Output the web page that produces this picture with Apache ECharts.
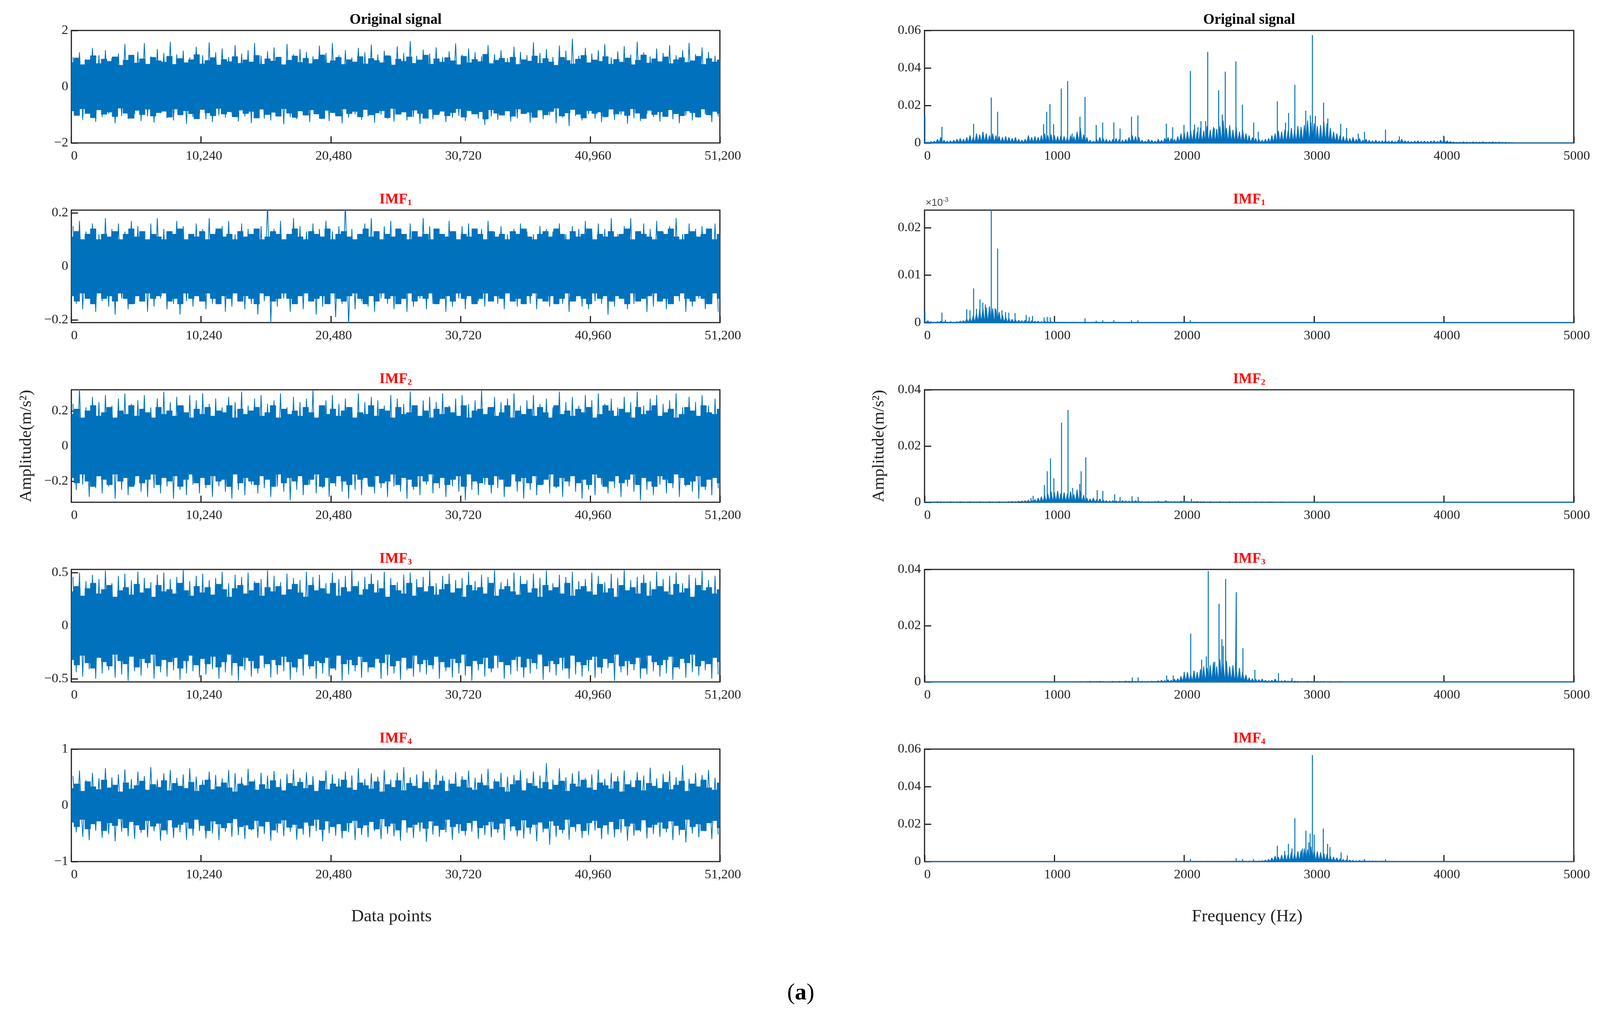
<!DOCTYPE html>
<html>
<head>
<meta charset="utf-8">
<script src="https://cdn.jsdelivr.net/npm/echarts@6/dist/echarts.min.js"></script>
<style>
html, body { margin: 0; padding: 0; background: #fff; overflow: hidden; }
#chart { width: 100vw; height: 100vh; }
</style>
</head>
<body>
<div id="chart"></div>
<script>
// * EMD 分解：左列时域波形，右列频谱
const chart = echarts.init(document.getElementById('chart'))

// ? 行标题（从上到下）
const rowTitles = ['Original signal', 'IMF', 'IMF', 'IMF', 'IMF']
const rowSubs = ['', '1', '2', '3', '4']

// ? 坐标刻度
const sampleTicks = [0, 10240, 20480, 30720, 40960, 51200]
const freqTicks = [0, 1000, 2000, 3000, 4000, 5000]
const timeRange = [2, 0.21, 0.32, 0.53, 1]
const timeYTicks = [[-2, 0, 2], [-0.2, 0, 0.2], [-0.2, 0, 0.2], [-0.5, 0, 0.5], [-1, 0, 1]]
const specMax = [0.06, 0.0237, 0.04, 0.04, 0.06]
const specYTicks = [[0, 0.02, 0.04, 0.06], [0, 0.01, 0.02], [0, 0.02, 0.04], [0, 0.02, 0.04], [0, 0.02, 0.04, 0.06]]

// ? 时域：最密集部分的幅值 (m/s^2)
const coreAmp = [0.68, 0.085, 0.14, 0.24, 0.2]

// ? 时域：每 512 点一段的正峰 / 负峰 (m/s^2)
const origHi = [1.05,1.22,0.98,1.38,1.12,1.30,1.02,1.18,1.52,1.10,
  1.25,1.55,1.08,1.34,1.20,1.60,1.15,1.28,1.04,1.42,
  1.12,1.58,1.22,1.36,1.06,1.48,1.18,1.30,1.55,1.10,
  1.26,1.40,1.02,1.52,1.16,1.34,1.24,1.08,1.46,1.20,
  1.56,1.12,1.30,1.04,1.38,1.22,1.50,1.14,1.28,1.08,
  1.44,1.20,1.62,1.10,1.32,1.18,1.40,1.06,1.26,1.54,
  1.14,1.36,1.22,1.08,1.48,1.16,1.30,1.02,1.42,1.24,
  1.12,1.58,1.20,1.34,1.06,1.46,1.28,1.70,1.10,1.38,
  1.18,1.30,1.52,1.04,1.26,1.44,1.14,1.60,1.22,1.08,
  1.36,1.20,1.48,1.12,1.30,1.56,1.16,1.40,1.24,1.10]
const origLo = [-1.02,-1.18,-0.92,-1.25,-1.08,-0.96,-1.30,-1.04,-1.14,-0.98,
  -1.22,-1.06,-1.28,-0.94,-1.12,-1.20,-1.00,-1.32,-1.08,-0.96,
  -1.16,-1.26,-1.02,-1.10,-0.94,-1.24,-1.06,-1.30,-1.00,-1.14,
  -1.20,-0.98,-1.34,-1.08,-1.16,-1.02,-1.26,-0.96,-1.12,-1.22,
  -1.04,-1.30,-1.10,-0.98,-1.18,-1.06,-1.28,-1.00,-1.14,-1.24,
  -0.96,-1.20,-1.08,-1.32,-1.02,-1.16,-0.94,-1.26,-1.10,-1.04,
  -1.22,-0.98,-1.14,-1.36,-1.06,-1.18,-1.00,-1.24,-1.12,-0.96,
  -1.28,-1.08,-1.16,-1.02,-1.30,-1.10,-1.40,-1.04,-1.20,-0.98,
  -1.14,-1.26,-1.06,-1.18,-1.00,-1.32,-1.12,-1.22,-0.96,-1.08,
  -1.24,-1.04,-1.16,-1.30,-1.02,-1.20,-1.10,-0.98,-1.26,-1.06]

const imf1Hi = [0.15,0.17,0.13,0.16,0.12,0.18,0.14,0.16,0.13,0.17,
  0.15,0.12,0.16,0.18,0.14,0.13,0.17,0.15,0.12,0.16,
  0.14,0.18,0.13,0.15,0.17,0.12,0.16,0.14,0.13,0.15,
  0.24,0.14,0.17,0.12,0.18,0.15,0.13,0.16,0.14,0.17,
  0.13,0.15,0.24,0.14,0.12,0.16,0.18,0.13,0.15,0.17,
  0.14,0.12,0.16,0.13,0.18,0.15,0.14,0.12,0.17,0.13,
  0.15,0.16,0.12,0.14,0.17,0.13,0.15,0.12,0.14,0.16,
  0.13,0.12,0.15,0.14,0.13,0.16,0.12,0.15,0.14,0.17,
  0.13,0.16,0.14,0.18,0.12,0.15,0.18,0.13,0.16,0.14,
  0.17,0.13,0.15,0.18,0.12,0.16,0.14,0.15,0.13,0.16]
const imf1Lo = [-0.14,-0.16,-0.12,-0.17,-0.13,-0.15,-0.18,-0.12,-0.16,-0.14,
  -0.13,-0.17,-0.15,-0.12,-0.16,-0.14,-0.18,-0.13,-0.15,-0.12,
  -0.16,-0.14,-0.13,-0.17,-0.15,-0.12,-0.16,-0.14,-0.18,-0.13,
  -0.21,-0.15,-0.12,-0.17,-0.14,-0.16,-0.13,-0.18,-0.15,-0.12,
  -0.19,-0.14,-0.22,-0.16,-0.13,-0.15,-0.17,-0.12,-0.14,-0.16,
  -0.13,-0.17,-0.15,-0.12,-0.16,-0.14,-0.13,-0.17,-0.15,-0.12,
  -0.16,-0.14,-0.13,-0.15,-0.12,-0.14,-0.16,-0.13,-0.15,-0.12,
  -0.14,-0.16,-0.13,-0.15,-0.12,-0.14,-0.17,-0.13,-0.15,-0.16,
  -0.13,-0.14,-0.18,-0.15,-0.12,-0.16,-0.14,-0.13,-0.17,-0.15,
  -0.12,-0.16,-0.14,-0.13,-0.17,-0.15,-0.12,-0.16,-0.14,-0.17]

const imf2Hi = [0.24,0.33,0.22,0.28,0.25,0.29,0.23,0.27,0.30,0.24,
  0.26,0.29,0.22,0.27,0.31,0.25,0.28,0.23,0.29,0.26,
  0.30,0.24,0.27,0.22,0.28,0.25,0.31,0.23,0.27,0.29,
  0.24,0.26,0.30,0.22,0.28,0.25,0.27,0.32,0.23,0.26,
  0.29,0.24,0.27,0.22,0.30,0.25,0.28,0.26,0.23,0.29,
  0.27,0.24,0.31,0.22,0.26,0.28,0.25,0.30,0.23,0.27,
  0.29,0.24,0.26,0.32,0.22,0.28,0.25,0.27,0.30,0.23,
  0.26,0.29,0.24,0.27,0.22,0.31,0.25,0.28,0.23,0.29,
  0.26,0.30,0.24,0.27,0.22,0.28,0.25,0.31,0.23,0.27,
  0.29,0.24,0.26,0.30,0.22,0.28,0.25,0.29,0.23,0.27]
const imf2Lo = [-0.25,-0.22,-0.29,-0.24,-0.27,-0.23,-0.30,-0.25,-0.28,-0.22,
  -0.26,-0.29,-0.24,-0.27,-0.23,-0.30,-0.25,-0.28,-0.22,-0.27,
  -0.24,-0.29,-0.23,-0.26,-0.30,-0.25,-0.28,-0.22,-0.27,-0.24,
  -0.29,-0.23,-0.26,-0.31,-0.25,-0.28,-0.22,-0.27,-0.24,-0.29,
  -0.23,-0.26,-0.30,-0.25,-0.28,-0.22,-0.27,-0.24,-0.29,-0.23,
  -0.26,-0.30,-0.25,-0.28,-0.22,-0.27,-0.24,-0.29,-0.23,-0.26,
  -0.31,-0.25,-0.28,-0.22,-0.27,-0.24,-0.29,-0.23,-0.26,-0.30,
  -0.25,-0.28,-0.22,-0.27,-0.24,-0.29,-0.23,-0.26,-0.30,-0.25,
  -0.28,-0.22,-0.27,-0.24,-0.29,-0.23,-0.26,-0.31,-0.25,-0.28,
  -0.22,-0.27,-0.24,-0.29,-0.23,-0.26,-0.30,-0.25,-0.28,-0.24]

const imf3Hi = [0.46,0.50,0.42,0.48,0.44,0.52,0.40,0.47,0.49,0.43,
  0.51,0.45,0.41,0.48,0.50,0.44,0.46,0.53,0.42,0.47,
  0.49,0.43,0.45,0.51,0.40,0.48,0.46,0.50,0.42,0.44,
  0.52,0.47,0.41,0.49,0.45,0.43,0.51,0.46,0.48,0.40,
  0.50,0.44,0.47,0.53,0.42,0.46,0.49,0.43,0.51,0.45,
  0.41,0.48,0.50,0.44,0.46,0.52,0.40,0.47,0.49,0.43,
  0.45,0.51,0.42,0.48,0.46,0.53,0.41,0.44,0.50,0.47,
  0.43,0.49,0.45,0.52,0.40,0.48,0.46,0.51,0.42,0.44,
  0.50,0.47,0.41,0.49,0.45,0.53,0.43,0.46,0.48,0.42,
  0.51,0.44,0.47,0.50,0.40,0.48,0.45,0.52,0.43,0.47]
const imf3Lo = [-0.44,-0.48,-0.41,-0.50,-0.45,-0.42,-0.49,-0.46,-0.52,-0.43,
  -0.47,-0.40,-0.50,-0.44,-0.48,-0.42,-0.51,-0.45,-0.43,-0.49,
  -0.46,-0.41,-0.50,-0.44,-0.47,-0.52,-0.42,-0.48,-0.45,-0.40,
  -0.49,-0.46,-0.43,-0.51,-0.44,-0.47,-0.41,-0.50,-0.45,-0.48,
  -0.42,-0.52,-0.46,-0.43,-0.49,-0.44,-0.40,-0.50,-0.47,-0.45,
  -0.51,-0.42,-0.48,-0.44,-0.46,-0.41,-0.50,-0.43,-0.49,-0.45,
  -0.47,-0.52,-0.42,-0.48,-0.44,-0.40,-0.50,-0.46,-0.43,-0.49,
  -0.45,-0.41,-0.51,-0.44,-0.47,-0.42,-0.50,-0.46,-0.48,-0.43,
  -0.49,-0.45,-0.40,-0.52,-0.44,-0.47,-0.42,-0.50,-0.46,-0.43,
  -0.48,-0.45,-0.51,-0.41,-0.49,-0.44,-0.47,-0.42,-0.50,-0.46]

const imf4Hi = [0.52,0.62,0.45,0.58,0.48,0.66,0.50,0.55,0.64,0.47,
  0.60,0.52,0.68,0.46,0.57,0.63,0.49,0.55,0.66,0.51,
  0.45,0.60,0.54,0.48,0.63,0.57,0.50,0.65,0.46,0.58,
  0.53,0.61,0.47,0.56,0.64,0.49,0.59,0.52,0.45,0.62,
  0.55,0.48,0.60,0.53,0.66,0.47,0.57,0.51,0.63,0.46,
  0.58,0.68,0.50,0.55,0.61,0.48,0.64,0.53,0.46,0.59,
  0.52,0.62,0.49,0.56,0.65,0.47,0.58,0.51,0.54,0.63,
  0.48,0.60,0.53,0.75,0.46,0.66,0.50,0.57,0.61,0.49,
  0.55,0.64,0.47,0.58,0.52,0.62,0.45,0.59,0.53,0.67,
  0.48,0.56,0.61,0.50,0.72,0.47,0.58,0.54,0.63,0.49]
const imf4Lo = [-0.48,-0.56,-0.62,-0.45,-0.58,-0.51,-0.64,-0.47,-0.55,-0.60,
  -0.49,-0.57,-0.46,-0.63,-0.52,-0.58,-0.48,-0.61,-0.54,-0.46,
  -0.59,-0.50,-0.62,-0.47,-0.56,-0.53,-0.60,-0.45,-0.58,-0.51,
  -0.63,-0.49,-0.55,-0.47,-0.61,-0.52,-0.57,-0.46,-0.64,-0.50,
  -0.54,-0.59,-0.48,-0.62,-0.53,-0.57,-0.46,-0.60,-0.51,-0.55,
  -0.63,-0.49,-0.58,-0.47,-0.65,-0.52,-0.56,-0.48,-0.61,-0.50,
  -0.54,-0.47,-0.60,-0.53,-0.57,-0.49,-0.62,-0.46,-0.55,-0.59,
  -0.51,-0.64,-0.48,-0.70,-0.56,-0.50,-0.61,-0.47,-0.58,-0.53,
  -0.45,-0.60,-0.52,-0.57,-0.49,-0.63,-0.54,-0.47,-0.59,-0.51,
  -0.56,-0.48,-0.62,-0.53,-0.66,-0.50,-0.57,-0.46,-0.60,-0.52]

// ? 时域：较小振荡的包络幅值 (m/s^2)
const origFringe = [0.86,1.02,0.78,0.95,1.10,0.82,0.98,0.90,1.06,0.76,
  0.94,1.12,0.84,0.99,0.80,1.04,0.92,0.87,1.08,0.79,
  1.00,0.85,0.96,1.14,0.81,0.93,1.03,0.77,0.97,0.89,
  1.07,0.83,0.95,0.88,1.11,0.80,0.99,0.91,1.05,0.78,
  0.94,1.09,0.86,1.01,0.82,0.97,1.13,0.84,0.92,1.04,
  0.79,0.96,0.88,1.07,0.81,1.00,0.93,0.85,1.10,0.77,
  0.98,0.90,1.06,0.83,0.95,1.12,0.80,0.99,0.87,1.03,
  0.92,0.78,1.08,0.85,0.97,0.89,1.15,0.82,0.94,1.01,
  0.86,1.05,0.79,0.96,0.91,1.09,0.83,1.00,0.88,0.76,
  1.04,0.93,0.81,0.98,1.11,0.85,0.95,0.90,1.07,0.80,
  0.97,0.87,1.02,0.78,0.94,1.13,0.84,0.99,0.89,1.06,
  0.82,0.96,1.03,0.86,0.92,1.08,0.79,1.00,0.88,0.95]
const imf1Fringe = [0.11,0.13,0.10,0.12,0.14,0.10,0.12,0.11,0.13,0.10,
  0.12,0.14,0.11,0.13,0.10,0.12,0.11,0.10,0.13,0.12,
  0.14,0.10,0.12,0.11,0.13,0.10,0.12,0.14,0.11,0.12,
  0.10,0.13,0.11,0.12,0.14,0.10,0.11,0.13,0.12,0.10,
  0.12,0.14,0.11,0.10,0.13,0.12,0.11,0.14,0.10,0.12,
  0.13,0.11,0.10,0.12,0.14,0.11,0.13,0.10,0.12,0.11,
  0.14,0.12,0.10,0.13,0.11,0.12,0.10,0.14,0.12,0.11,
  0.13,0.10,0.12,0.11,0.14,0.12,0.10,0.13,0.11,0.12,
  0.10,0.13,0.12,0.14,0.11,0.10,0.12,0.13,0.11,0.14,
  0.12,0.10,0.13,0.11,0.12,0.14,0.10,0.12,0.11,0.13,
  0.11,0.12,0.14,0.10,0.13,0.12,0.11,0.10,0.13,0.12,
  0.14,0.11,0.10,0.12,0.13,0.11,0.12,0.14,0.10,0.12]
const imf2Fringe = [0.18,0.21,0.16,0.20,0.23,0.17,0.19,0.22,0.16,0.20,
  0.18,0.23,0.17,0.21,0.19,0.16,0.22,0.18,0.20,0.17,
  0.23,0.19,0.16,0.21,0.18,0.22,0.17,0.20,0.19,0.23,
  0.16,0.21,0.18,0.20,0.22,0.17,0.19,0.23,0.16,0.21,
  0.18,0.20,0.17,0.22,0.19,0.16,0.23,0.18,0.21,0.17,
  0.20,0.22,0.16,0.19,0.18,0.23,0.17,0.21,0.20,0.16,
  0.22,0.18,0.19,0.23,0.17,0.20,0.16,0.21,0.18,0.22,
  0.19,0.17,0.23,0.16,0.20,0.21,0.18,0.22,0.17,0.19,
  0.23,0.16,0.20,0.18,0.21,0.17,0.22,0.19,0.16,0.23,
  0.18,0.20,0.17,0.21,0.19,0.22,0.16,0.18,0.23,0.20,
  0.17,0.21,0.19,0.16,0.22,0.18,0.20,0.23,0.17,0.19,
  0.21,0.16,0.18,0.22,0.20,0.17,0.23,0.19,0.18,0.21]
const imf3Fringe = [0.32,0.37,0.28,0.35,0.40,0.30,0.34,0.38,0.27,0.33,
  0.36,0.29,0.39,0.31,0.35,0.27,0.38,0.32,0.34,0.30,
  0.40,0.33,0.28,0.37,0.31,0.36,0.29,0.39,0.34,0.27,
  0.35,0.38,0.30,0.33,0.40,0.28,0.36,0.32,0.37,0.29,
  0.34,0.39,0.31,0.27,0.38,0.33,0.35,0.30,0.40,0.28,
  0.36,0.32,0.37,0.29,0.34,0.39,0.31,0.35,0.27,0.38,
  0.33,0.30,0.40,0.28,0.36,0.32,0.37,0.29,0.34,0.39,
  0.31,0.35,0.27,0.38,0.33,0.36,0.30,0.40,0.28,0.34,
  0.37,0.32,0.29,0.39,0.31,0.35,0.27,0.38,0.33,0.36,
  0.30,0.40,0.28,0.34,0.37,0.32,0.29,0.39,0.31,0.35,
  0.27,0.38,0.33,0.36,0.30,0.40,0.28,0.34,0.37,0.32,
  0.29,0.39,0.31,0.35,0.27,0.38,0.33,0.36,0.30,0.34]
const imf4Fringe = [0.30,0.38,0.25,0.42,0.33,0.28,0.45,0.31,0.36,0.24,
  0.40,0.29,0.35,0.43,0.27,0.37,0.32,0.44,0.26,0.39,
  0.34,0.30,0.41,0.25,0.36,0.45,0.28,0.33,0.40,0.31,
  0.24,0.38,0.35,0.42,0.27,0.37,0.29,0.44,0.32,0.26,
  0.39,0.34,0.41,0.30,0.36,0.25,0.43,0.28,0.38,0.33,
  0.45,0.31,0.27,0.40,0.35,0.29,0.42,0.24,0.37,0.32,
  0.44,0.26,0.39,0.34,0.30,0.41,0.28,0.36,0.43,0.25,
  0.38,0.33,0.45,0.31,0.27,0.40,0.35,0.29,0.42,0.32,
  0.24,0.37,0.44,0.26,0.39,0.34,0.30,0.41,0.28,0.36,
  0.43,0.25,0.38,0.33,0.45,0.31,0.27,0.40,0.35,0.29,
  0.42,0.24,0.37,0.32,0.44,0.26,0.39,0.34,0.30,0.41,
  0.28,0.36,0.43,0.25,0.38,0.33,0.45,0.31,0.27,0.40]

// ? 频谱：底噪，每 25 Hz 一个值，单位 1e-4 m/s^2（每行 250 Hz）
const GRASS_STEP = 25
const GRASS_UNIT = 1e-4
const origGrass = [10,5,8,10,20,30,15,10,12,15,
  20,25,20,30,40,30,50,45,60,50,
  40,50,40,35,30,35,30,25,30,20,
  15,20,40,30,35,30,40,50,40,45,
  40,35,40,35,30,40,35,60,80,45,
  30,15,10,20,30,25,20,15,20,25,
  20,15,20,30,40,35,30,15,10,20,
  15,10,20,15,25,30,25,20,35,50,
  55,60,65,70,60,80,65,90,70,85,
  75,90,120,80,95,70,85,60,70,50,
  40,30,25,20,15,20,25,40,50,65,
  60,70,65,80,70,90,85,95,120,110,
  105,90,95,115,105,80,60,50,40,35,
  30,25,30,20,25,15,20,15,12,15,
  10,12,14,10,12,8,15,20,12,10,
  8,10,12,9,10,8,10,12,9,15,
  18,12,8,5,3,4,6,5,4,6,
  5,5,6,4,5,6,4,5,4,3,
  2,1,0,0,0,0,0,0,0,0,
  0,0,0,0,0,0,0,0,0,0,
  0]
const imf1Grass = [4,4,2,1,2,3,2,1,2,1,
  2,3,4,8,10,14,20,28,30,32,
  34,30,28,22,16,12,9,7,6,5,
  4,5,3,4,3,3,2,3,2,2,
  1,1,1,1,0.5,0.5,1,0.5,0.5,0.5,
  0.5,0.3,0.3,0.5,0.3,0.3,0.3,0.5,0.3,0.3,
  0.3,0.3,0.5,0.3,0.3,0.3,0,0,0,0,
  0,0,0,0,0,0,0,0,0,0,
  0,0,0,0,0,0,0,0,0,0,
  0,0,0,0,0,0,0,0,0,0,
  0,0,0,0,0,0,0,0,0,0,
  0,0,0,0,0,0,0,0,0,0,
  0,0,0,0,0,0,0,0,0,0,
  0,0,0,0,0,0,0,0,0,0,
  0,0,0,0,0,0,0,0,0,0,
  0,0,0,0,0,0,0,0,0,0,
  0,0,0,0,0,0,0,0,0,0,
  0,0,0,0,0,0,0,0,0,0,
  0,0,0,0,0,0,0,0,0,0,
  0,0,0,0,0,0,0,0,0,0,
  0]
const imf2Grass = [3,1,1,1,2,2,1,1,2,1,
  1,2,1,1,2,1,1,2,1,1,
  2,1,1,2,1,1,2,3,2,4,
  5,6,8,6,10,15,20,25,30,38,
  35,40,32,35,30,38,28,45,40,25,
  15,12,15,10,12,8,6,5,6,5,
  4,6,5,4,5,6,4,3,2,3,
  2,3,4,2,3,3,2,3,2,4,
  6,3,2,2,3,2,2,1,2,1,
  1,2,1,1,2,1,1,1,1,1,
  1,0.5,1,0.5,1,0.5,1,1,0.5,0.5,
  1,0.5,0.5,0.5,0.5,0,0,0,0,0,
  0,0,0,0,0,0,0,0,0,0,
  0,0,0,0,0,0,0,0,0,0,
  0,0,0,0,0,0,0,0,0,0,
  0,0,0,0,0,0,0,0,0,0,
  0,0,0,0,0,0,0,0,0,0,
  0,0,0,0,0,0,0,0,0,0,
  0,0,0,0,0,0,0,0,0,0,
  0,0,0,0,0,0,0,0,0,0,
  0]
const imf3Grass = [0,0,0,0,0,0,0,0,0,0,
  0,0,0,0,0,0,0,0,0,0,
  0,0,0,0,0,0,0,0,0,0,
  0,0,0,0,0,0,0,0,0,0,
  0,0,0,0,0,0,0,0,1,0.5,
  1,2,1,1,2,1,0.5,1,2,1,
  2,1,3,2,3,2,1,2,1,2,
  3,2,4,6,5,8,6,10,12,20,
  30,35,28,40,35,45,55,50,60,70,
  55,80,65,75,55,60,45,50,35,25,
  15,12,10,8,10,6,5,6,10,5,
  4,5,3,4,3,2,1,1,2,1,
  1,1,1,1,0.5,1,0.5,0.5,1,0.5,
  0.5,0.5,0,0,0,0,0,0,0,0,
  0,0,0,0,0,0,0,0,0,0,
  0,0,0,0,0,0,0,0,0,0,
  0,0,0,0,0,0,0,0,0,0,
  0,0,0,0,0,0,0,0,0,0,
  0,0,0,0,0,0,0,0,0,0,
  0,0,0,0,0,0,0,0,0,0,
  0]
const imf4Grass = [0,0,0,0,0,0,0,0,0,0,
  0,0,0,0,0,0,0,0,0,0,
  0,0,0,0,0,0,0,0,0,0,
  0,0,0,0,0,0,0,0,0,0,
  0,0,0,0,0,0,0,0,0,0,
  0,0,0,0,0,0,0,0,0,0,
  0,0,0,0,0,0,0,0,0,0,
  0,0,0,0,0,0,0,0,0,0,
  1,2,1,1,1,2,1,1,1,1,
  2,1,1,2,1,2,2,3,2,2,
  3,2,3,4,5,8,12,20,30,25,
  35,40,35,50,45,55,60,70,65,80,
  60,55,50,45,40,30,25,20,15,12,
  10,8,6,5,6,5,4,3,4,3,
  2,3,2,1,1,1,0.5,0.5,0.5,0.5,
  0.5,0,0,0,0,0,0,0,0,0,
  0,0,0,0,0,0,0,0,0,0,
  0,0,0,0,0,0,0,0,0,0,
  0,0,0,0,0,0,0,0,0,0,
  0,0,0,0,0,0,0,0,0,0,
  0]

// ? 频谱：谱峰频率 (Hz) 与幅值 (m/s^2)
const origPeakHz = [3,134,378,514,563,917,941,966,994,1053,1102,1137,1197,1236,1322,1372,1458,1506,1594,1643,
  1862,1911,1998,2047,2080,2106,2129,2165,2181,2232,2265,2293,2316,2398,2448,2535,2570,2717,2780,2804,
  2852,2936,2971,2987,3010,3073,3106,3205,3250,3340,3388,3550,3657,3997]
const origPeakAmp = [0.0145,0.0086,0.0102,0.0242,0.0166,0.010,0.0166,0.0207,0.010,0.029,0.033,0.005,0.014,0.0246,0.0096,0.0109,0.011,0.0077,0.014,0.0147,
  0.0103,0.0084,0.0096,0.0384,0.0098,0.0084,0.0116,0.0116,0.0486,0.0077,0.0281,0.0151,0.038,0.0435,0.0204,0.0109,0.006,0.0222,0.0109,0.016,
  0.031,0.0172,0.0147,0.0575,0.0144,0.0215,0.013,0.0102,0.008,0.005,0.006,0.0072,0.0035,0.0039]
const imf1PeakHz = [3,134,161,325,350,378,400,427,449,468,500,514,543,563,596,624,649,697,783,807,832,921,945,968,1236,1322,1372,1458,1594,1643,2047]
const imf1PeakAmp = [0.0023,0.0021,0.0006,0.0028,0.0026,0.0072,0.0029,0.0049,0.0042,0.0038,0.0034,0.0245,0.003,0.0156,0.0026,0.0022,0.0021,0.002,0.0016,0.0012,0.0014,0.0011,0.0012,0.0011,0.0009,0.0004,0.0005,0.0005,0.0005,0.0005,0.0005]
const imf2PeakHz = [820,836,923,945,970,996,1055,1105,1141,1195,1206,1242,1330,1373,1464,1506,1598,1645,1860,2055]
const imf2PeakAmp = [0.0015,0.0023,0.0061,0.011,0.0156,0.0085,0.0283,0.0328,0.0051,0.0065,0.011,0.016,0.0043,0.004,0.0028,0.0019,0.0022,0.0019,0.0007,0.0012]
const imf3PeakHz = [1600,1645,1865,1915,2000,2050,2134,2170,2185,2235,2268,2290,2300,2319,2395,2401,2452,2544,2726,2830]
const imf3PeakAmp = [0.0016,0.0016,0.0023,0.0023,0.0036,0.0172,0.0079,0.0091,0.0394,0.0072,0.0278,0.0152,0.0128,0.0366,0.0072,0.0319,0.012,0.0043,0.0031,0.0014]
const imf4PeakHz = [2047,2400,2450,2533,2717,2774,2802,2830,2852,2910,2937,2960,2970,2987,3001,3071,3104,3122,3208,3256,3388,3550]
const imf4PeakAmp = [0.0014,0.0019,0.0014,0.0014,0.0085,0.0056,0.0095,0.007,0.0232,0.007,0.0165,0.0102,0.015,0.0568,0.0144,0.0176,0.0095,0.0077,0.0049,0.0033,0.0014,0.0012]

const timeHi = [origHi, imf1Hi, imf2Hi, imf3Hi, imf4Hi]
const timeLo = [origLo, imf1Lo, imf2Lo, imf3Lo, imf4Lo]
const fringeList = [origFringe, imf1Fringe, imf2Fringe, imf3Fringe, imf4Fringe]
const grassList = [origGrass, imf1Grass, imf2Grass, imf3Grass, imf4Grass]
const peakHzList = [origPeakHz, imf1PeakHz, imf2PeakHz, imf3PeakHz, imf4PeakHz]
const peakAmpList = [origPeakAmp, imf1PeakAmp, imf2PeakAmp, imf3PeakAmp, imf4PeakAmp]

// ? 版式（以 4394×2627 为基准，按实际窗口缩放）
const SX = (chart.getWidth() || 4394) / 4394
const SY = (chart.getHeight() || 2627) / 2627
const SF = Math.min(SX, SY)
const px = v => v * SX
const py = v => v * SY
const fs = v => Math.round(v * SF)

const BLUE = '#0072BD'
const INK = '#222'
const FONT = "'Liberation Serif', 'Times New Roman', serif"
const ROW_TOP = [78, 538, 998, 1458, 1918]
const PLOT_H = 288
const LEFT_X = 196, LEFT_W = 1781
const RIGHT_X = 2539, RIGHT_W = 1783

function fmtNum(v) {
  return v < 0 ? '\u2212' + String(-v) : String(v)
}

// 时域：正负峰交替成折线
function zigzag(hi, lo) {
  const total = sampleTicks[sampleTicks.length - 1]
  const step = total / hi.length
  const pts = []
  hi.forEach((h, i) => {
    pts.push([(i + 0.25) * step, h])
    pts.push([(i + 0.75) * step, lo[i]])
  })
  return pts
}

// 时域：包络（上 / 下）
function envelope(mag, sign) {
  const total = sampleTicks[sampleTicks.length - 1]
  const step = total / (mag.length - 1)
  return mag.map((m, i) => [i * step, sign * m])
}

// 频谱：底噪，峰与基线交替
function grassLine(grass) {
  const pts = []
  grass.forEach((g, i) => {
    pts.push([i * GRASS_STEP, g * GRASS_UNIT])
    if (i < grass.length - 1) pts.push([(i + 0.5) * GRASS_STEP, 0])
  })
  return pts
}

// 频谱：谱峰竖线
function peakLine(hz, amp) {
  const pts = []
  hz.forEach((f, i) => {
    pts.push([f, 0], [f, amp[i]], [f, 0])
  })
  return pts
}

const tickStyle = { show: true, inside: true, length: fs(18), lineStyle: { color: INK, width: 3 } }
const labelStyle = { color: INK, fontFamily: FONT, fontSize: fs(36) }
const plain = { type: 'line', symbol: 'none', silent: true, animation: false, clip: true }

const grid = [], xAxis = [], yAxis = [], series = [], graphic = []

for (let r = 0; r < 5; r++) {
  // 左：时域；右：频谱
  grid.push({ left: px(LEFT_X), top: py(ROW_TOP[r]), width: px(LEFT_W), height: py(PLOT_H), show: true, borderColor: INK, borderWidth: 3 })
  grid.push({ left: px(RIGHT_X), top: py(ROW_TOP[r]), width: px(RIGHT_W), height: py(PLOT_H), show: true, borderColor: INK, borderWidth: 3 })

  const gl = 2 * r, gr = 2 * r + 1
  xAxis.push({
    gridIndex: gl, type: 'value', min: sampleTicks[0], max: sampleTicks[sampleTicks.length - 1], interval: 10240,
    axisLine: { show: false, onZero: false }, axisTick: tickStyle, splitLine: { show: false },
    axisLabel: Object.assign({ margin: fs(18), padding: [0, 0, 0, fs(16)], formatter: v => v.toLocaleString('en-US') }, labelStyle)
  })
  xAxis.push({
    gridIndex: gr, type: 'value', min: freqTicks[0], max: freqTicks[freqTicks.length - 1], interval: 1000,
    axisLine: { show: false, onZero: false }, axisTick: tickStyle, splitLine: { show: false },
    axisLabel: Object.assign({ margin: fs(18), padding: [0, 0, 0, fs(16)], formatter: v => String(v) }, labelStyle)
  })
  yAxis.push({
    gridIndex: gl, type: 'value', min: -timeRange[r], max: timeRange[r],
    axisLine: { show: false, onZero: false }, splitLine: { show: false },
    axisTick: Object.assign({ customValues: timeYTicks[r] }, tickStyle),
    axisLabel: Object.assign({ margin: fs(9), customValues: timeYTicks[r], formatter: fmtNum }, labelStyle)
  })
  yAxis.push({
    gridIndex: gr, type: 'value', min: 0, max: specMax[r],
    axisLine: { show: false, onZero: false }, splitLine: { show: false },
    axisTick: Object.assign({ customValues: specYTicks[r] }, tickStyle),
    axisLabel: Object.assign({ margin: fs(10), customValues: specYTicks[r], formatter: fmtNum }, labelStyle)
  })

  // 时域：包络带 + 密集主体 + 尖峰
  series.push(Object.assign({}, plain, {
    xAxisIndex: gl, yAxisIndex: gl, data: envelope(fringeList[r], 1), step: 'middle',
    lineStyle: { color: BLUE, width: 1.5 }, areaStyle: { color: BLUE, opacity: 1 },
    markArea: { silent: true, itemStyle: { color: BLUE, opacity: 1 }, data: [[{ yAxis: -coreAmp[r] }, { yAxis: coreAmp[r] }]] }
  }))
  series.push(Object.assign({}, plain, {
    xAxisIndex: gl, yAxisIndex: gl, data: envelope(fringeList[r], -1), step: 'middle',
    lineStyle: { color: BLUE, width: 1.5 }, areaStyle: { color: BLUE, opacity: 1 }
  }))
  series.push(Object.assign({}, plain, {
    xAxisIndex: gl, yAxisIndex: gl, data: zigzag(timeHi[r], timeLo[r]), z: 3,
    lineStyle: { color: BLUE, width: 2 }
  }))
  // 频谱：底噪 + 谱峰
  series.push(Object.assign({}, plain, {
    xAxisIndex: gr, yAxisIndex: gr, data: grassLine(grassList[r]),
    lineStyle: { color: BLUE, width: 2 }, areaStyle: { color: BLUE, opacity: 1 }
  }))
  series.push(Object.assign({}, plain, {
    xAxisIndex: gr, yAxisIndex: gr, data: peakLine(peakHzList[r], peakAmpList[r]),
    lineStyle: { color: BLUE, width: 2.5 }
  }))

  // 行标题
  const isOrig = rowSubs[r] === ''
  const titleStyle = {
    text: isOrig ? rowTitles[r] : '{b|' + rowTitles[r] + '}{s|' + rowSubs[r] + '}',
    fontFamily: FONT, fontSize: fs(40), fontWeight: 'bold', fill: '#000',
    align: 'center', verticalAlign: 'middle',
    rich: {
      b: { fontFamily: FONT, fontSize: fs(40), fontWeight: 'bold', fill: '#ff0000' },
      s: { fontFamily: FONT, fontSize: fs(24), fontWeight: 'bold', fill: '#ff0000', padding: [fs(18), 0, 0, 0] }
    }
  }
  graphic.push({ type: 'text', x: px(LEFT_X + LEFT_W / 2), y: py(ROW_TOP[r] - 27), style: titleStyle })
  graphic.push({ type: 'text', x: px(RIGHT_X + RIGHT_W / 2), y: py(ROW_TOP[r] - 27), style: titleStyle })
}

// 纵轴名称
const ampText = 'Amplitude(m/s\u00B2)'
graphic.push({ type: 'text', x: px(73), y: py(ROW_TOP[2] + PLOT_H / 2), rotation: Math.PI / 2,
  style: { text: ampText, fontFamily: FONT, fontSize: fs(46), fill: INK, align: 'center', verticalAlign: 'middle' } })
graphic.push({ type: 'text', x: px(2414), y: py(ROW_TOP[2] + PLOT_H / 2), rotation: Math.PI / 2,
  style: { text: ampText, fontFamily: FONT, fontSize: fs(46), fill: INK, align: 'center', verticalAlign: 'middle' } })

// 横轴名称
graphic.push({ type: 'text', x: px(1075), y: py(2347),
  style: { text: 'Data points', fontFamily: FONT, fontSize: fs(48), fill: INK, align: 'center', verticalAlign: 'middle' } })
graphic.push({ type: 'text', x: px(3425), y: py(2347),
  style: { text: 'Frequency (Hz)', fontFamily: FONT, fontSize: fs(48), fill: INK, align: 'center', verticalAlign: 'middle' } })

// IMF1 频谱的 ×10^-3 标注
graphic.push({ type: 'text', x: px(2542), y: py(ROW_TOP[1] - 18),
  style: { text: '{n|\u00D710}{e|-3}', align: 'left', verticalAlign: 'middle',
    rich: { n: { fontFamily: "'Liberation Sans', sans-serif", fontSize: fs(28), fill: '#444' },
            e: { fontFamily: "'Liberation Sans', sans-serif", fontSize: fs(17), fill: '#444', padding: [0, 0, fs(16), 0] } } } })

// 子图编号
graphic.push({ type: 'text', x: px(2199), y: py(2543),
  style: { text: '{p|(}{a|a}{p|)}', align: 'center', verticalAlign: 'middle',
    rich: { p: { fontFamily: FONT, fontSize: fs(64), fill: '#000' }, a: { fontFamily: FONT, fontSize: fs(64), fontWeight: 'bold', fill: '#000' } } } })

const option = {
  backgroundColor: '#fff',
  animation: false,
  grid: grid,
  xAxis: xAxis,
  yAxis: yAxis,
  series: series,
  graphic: graphic
}

chart.setOption(option)
</script>
</body>
</html>
